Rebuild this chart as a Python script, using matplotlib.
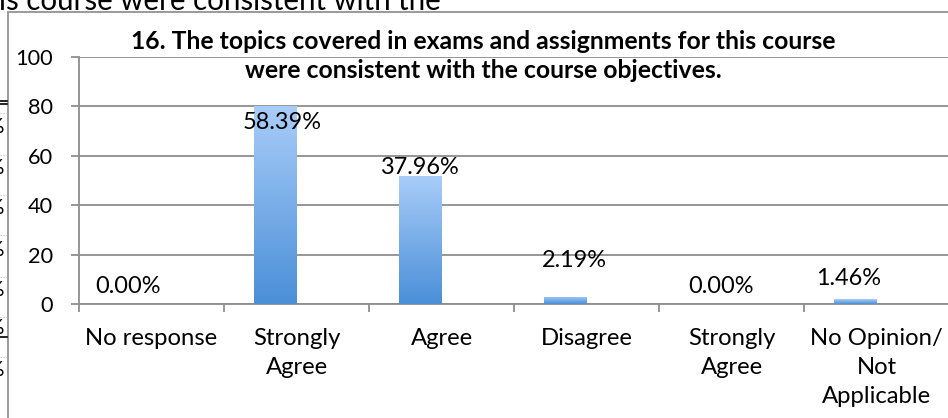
#!/usr/bin/env python3
"""Course survey question 16: response counts with percent labels."""

import matplotlib

matplotlib.use("Agg")
import matplotlib.pyplot as plt
import numpy as np
from matplotlib.colors import LinearSegmentedColormap
from matplotlib.lines import Line2D
from matplotlib.patches import Rectangle

W, H = 948, 418

CATEGORIES = [
    "No response",
    "Strongly\nAgree",
    "Agree",
    "Disagree",
    "Strongly\nAgree",
    "No Opinion/\nNot\nApplicable",
]
COUNTS = [0, 80, 52, 3, 0, 2]
PERCENT_LABELS = ["0.00%", "58.39%", "37.96%", "2.19%", "0.00%", "1.46%"]
Y_TICKS = [0, 20, 40, 60, 80, 100]
TITLE_LINES = [
    "16. The topics covered in exams and assignments for this course",
    "were consistent with the course objectives.",
]
BACKDROP_TEXT = "is course were consistent with the"

# Excel placed the data labels by hand; baseline offset (data units) and x shift (px)
LABEL_DY = [4.5, -9.1, 0.6, 12.0, 4.5, 5.7]
LABEL_DX = [-2, 6.5, -1.5, 9, 11, -7]

FONT = "Lato"
GRID = "#8e8e8e"
BAR_TOP = "#a9cdf9"
BAR_BOTTOM = "#4a8fd8"
BAR_W = 0.29

plt.rcParams["font.family"] = FONT


def fx(x):
    return x / W


def fy(y):
    return 1 - y / H


def _size_for(fig, s, width_px, weight="normal"):
    t = fig.text(0, 0, s, size=20, weight=weight)
    w = t.get_window_extent(fig.canvas.get_renderer()).width
    t.remove()
    return 20 * width_px / w


def main() -> None:
    fig = plt.figure(figsize=(W / 100, H / 100), dpi=100)

    tick_size = _size_for(fig, "100", 38)
    cat_size = _size_for(fig, "No response", 133)
    lab_size = _size_for(fig, "58.39%", 79)
    title_size = _size_for(fig, TITLE_LINES[0], 707, weight="bold")
    back_size = _size_for(fig, BACKDROP_TEXT, 444)

    # text of the page behind the chart, cut at the top
    fig.text(fx(-1), fy(10), BACKDROP_TEXT, size=back_size, va="baseline", ha="left")
    # bits of a table peeking out on the left
    for y in (101, 104, 337):
        fig.add_artist(Line2D([fx(0), fx(7)], [fy(y), fy(y)], color="black", lw=1.2))
    for y in (113, 155, 195, 235, 277, 317, 357):
        fig.add_artist(Line2D([fx(0), fx(7)], [fy(y), fy(y)], color="#bbbbbb", lw=0.8, ls=":"))
    for y in (127, 168, 208, 250, 290, 328, 370):
        fig.text(fx(5), fy(y), "%", size=tick_size, ha="right", va="center")

    fig.add_artist(
        Rectangle((fx(8), fy(440)), fx(960), 428 / H, transform=fig.transFigure,
                  fc="white", ec="#9a9a9a", lw=1.4, zorder=-1)
    )

    ax = fig.add_axes([fx(79), fy(304), 870 / W, 247 / H])
    ax.set_facecolor("none")
    x = np.arange(len(CATEGORIES))
    bars = ax.bar(x - BAR_W / 2, COUNTS, width=BAR_W, fc="none", lw=0, zorder=3)

    cmap = LinearSegmentedColormap.from_list("xl", [BAR_BOTTOM, BAR_TOP])
    grad = np.linspace(0, 1, 256).reshape(-1, 1)
    for patch in bars:
        if patch.get_height() <= 0:
            continue
        x0, y0 = patch.get_x(), patch.get_y()
        im = ax.imshow(grad, extent=(x0, x0 + patch.get_width(), y0, y0 + patch.get_height()),
                       origin="lower", cmap=cmap, aspect="auto", zorder=3)
        im.set_clip_path(patch)

    for i, (count, label) in enumerate(zip(COUNTS, PERCENT_LABELS)):
        ax.annotate(label, (i - BAR_W / 2, count + LABEL_DY[i]),
                    xytext=(LABEL_DX[i] * 0.72, 0), textcoords="offset points",
                    ha="center", va="baseline", size=lab_size, zorder=4)

    ax.set_xlim(-0.5, len(CATEGORIES) - 0.5)
    ax.set_ylim(0, 100)
    ax.set_yticks(Y_TICKS)
    ax.yaxis.grid(True, color=GRID, lw=1.3)
    ax.set_axisbelow(True)
    ax.set_xticks(x)
    ax.set_xticklabels(CATEGORIES, size=cat_size, linespacing=1.48)
    ax.set_xticks(np.arange(-0.5, len(CATEGORIES)), minor=True)
    ax.tick_params(axis="x", which="major", length=0, pad=17)
    ax.tick_params(axis="x", which="minor", length=5.8, width=1.3, color=GRID)
    ax.tick_params(axis="y", length=5.8, width=1.3, color=GRID, pad=13, labelsize=tick_size)
    for side in ("top", "right"):
        ax.spines[side].set_visible(False)
    for side in ("left", "bottom"):
        ax.spines[side].set_color(GRID)
        ax.spines[side].set_linewidth(1.3)

    fig.text(fx(483.5), fy(49), TITLE_LINES[0], size=title_size, weight="bold",
             ha="center", va="baseline")
    fig.text(fx(483.5), fy(78), TITLE_LINES[1], size=title_size, weight="bold",
             ha="center", va="baseline")

    fig.savefig("out.png", dpi=100)
    plt.close(fig)


if __name__ == "__main__":
    main()
